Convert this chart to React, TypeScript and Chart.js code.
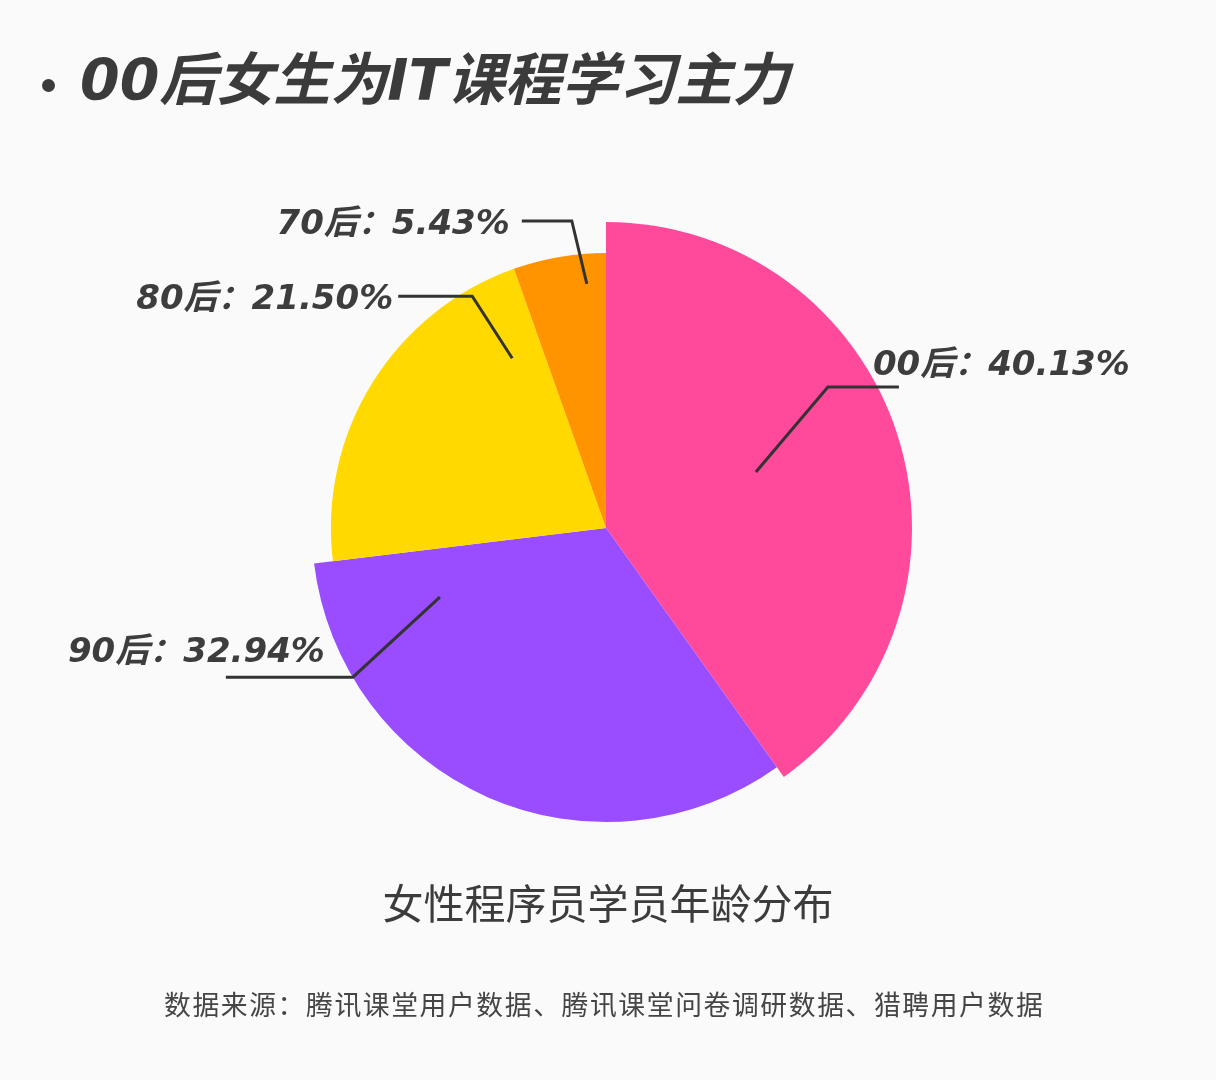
import { useEffect, useRef } from 'react';
import Chart from 'chart.js/auto';

const ageGroups = ['00后', '90后', '80后', '70后'];
const shares = [40.13, 32.94, 21.5, 5.43];
const sliceColors = ['#ff4a9c', '#9a4cff', '#ffd900', '#ff9300'];
// each slice has its own outer radius (relative to the largest)
const sliceRadius = [1, 0.961, 0.899, 0.899];

// leader line: starts inside the slice (t along the angle, r along the radius),
// bends at the elbow, then runs horizontally; text is placed from the elbow
const labelLayout = [
  { t: 0.481, r: 0.523, dx: 72, dy: -85, run: 71, tx: 45, ty: -12, align: 'left' },
  { t: 0.868, r: 0.612, dx: -87, dy: 80, run: -127, tx: -28, ty: -15, align: 'right' },
  { t: 0.879, r: 0.705, dx: -40, dy: -62, run: -74, tx: -79, ty: 13, align: 'right' },
  { t: 0.77, r: 0.89, dx: -15, dy: -63, run: -50, tx: -62, ty: 13, align: 'right' },
];

const labelFont = "italic bold 34px 'DejaVu Sans', 'Noto Sans CJK SC', sans-serif";

const App = () => {
  const chartRef = useRef<HTMLCanvasElement>(null);
  const chartInstance = useRef<Chart | null>(null);

  useEffect(() => {
    document.body.style.margin = '0';
    document.body.style.background = '#fafafa';

    if (chartRef.current) {
      if (chartInstance.current) {
        chartInstance.current.destroy();
      }

      const sliceSizes = {
        id: 'sliceSizes',
        afterDatasetsUpdate(chart: any) {
          const meta = chart.getDatasetMeta(0);
          const base = meta.controller.outerRadius;
          meta.data.forEach((arc: any, i: number) => {
            arc.outerRadius = base * sliceRadius[i];
          });
        }
      };

      const leaderLabels = {
        id: 'leaderLabels',
        afterDatasetsDraw(chart: any) {
          const ctx = chart.ctx;
          const meta = chart.getDatasetMeta(0);
          ctx.save();
          meta.data.forEach((arc: any, i: number) => {
            const l = labelLayout[i];
            const a = arc.startAngle + l.t * (arc.endAngle - arc.startAngle);
            const ax = arc.x + Math.cos(a) * arc.outerRadius * l.r;
            const ay = arc.y + Math.sin(a) * arc.outerRadius * l.r;
            const ex = ax + l.dx;
            const ey = ay + l.dy;

            ctx.beginPath();
            ctx.moveTo(ax, ay);
            ctx.lineTo(ex, ey);
            ctx.lineTo(ex + l.run, ey);
            ctx.strokeStyle = '#333';
            ctx.lineWidth = 3;
            ctx.lineJoin = 'miter';
            ctx.stroke();

            ctx.font = labelFont;
            ctx.fillStyle = '#3d3d3d';
            ctx.textAlign = l.align;
            ctx.textBaseline = 'alphabetic';
            ctx.fillText(`${ageGroups[i]}：${shares[i].toFixed(2)}%`, ex + l.tx, ey + l.ty);
          });
          ctx.restore();
        }
      };

      chartInstance.current = new Chart(chartRef.current, {
        type: 'pie',
        data: {
          labels: ageGroups,
          datasets: [{
            data: shares,
            backgroundColor: sliceColors,
            borderWidth: 0,
          }]
        },
        options: {
          responsive: false,
          animation: false,
          layout: {
            padding: { left: 300, right: 304, top: 222, bottom: 246 }
          },
          plugins: {
            legend: { display: false },
            tooltip: { enabled: false }
          }
        },
        plugins: [sliceSizes, leaderLabels]
      });
    }

    return () => {
      if (chartInstance.current) {
        chartInstance.current.destroy();
        chartInstance.current = null;
      }
    };
  }, []);

  return (
    <div style={{ position: 'relative', width: 1216, height: 1080, background: '#fafafa', overflow: 'hidden' }}>
      <canvas ref={chartRef} width={1216} height={1080} style={{ position: 'absolute', left: 0, top: 0, width: 1216, height: 1080 }} />
      <div style={{ position: 'absolute', left: 42, top: 79, width: 13, height: 13, borderRadius: '50%', background: '#3b3b3b' }} />
      <div style={{
        position: 'absolute', left: 80, top: 52, lineHeight: 1, whiteSpace: 'nowrap',
        fontFamily: "'DejaVu Sans', 'Noto Sans CJK SC', sans-serif",
        fontSize: 57, fontWeight: 'bold', fontStyle: 'italic', color: '#3b3b3b'
      }}>
        00后女生为IT课程学习主力
      </div>
      <div style={{
        position: 'absolute', left: 0, width: 1216, top: 881, textAlign: 'center', lineHeight: 1,
        fontFamily: "'Noto Sans CJK SC', sans-serif", fontSize: 41, color: '#3c3c3c'
      }}>
        女性程序员学员年龄分布
      </div>
      <div style={{
        position: 'absolute', left: 164, top: 991, lineHeight: 1, whiteSpace: 'nowrap',
        fontFamily: "'Noto Sans CJK SC', sans-serif", fontSize: 26.8, color: '#454545',
        letterSpacing: 1.6
      }}>
        数据来源：腾讯课堂用户数据、腾讯课堂问卷调研数据、猎聘用户数据
      </div>
    </div>
  );
};

export default App;
